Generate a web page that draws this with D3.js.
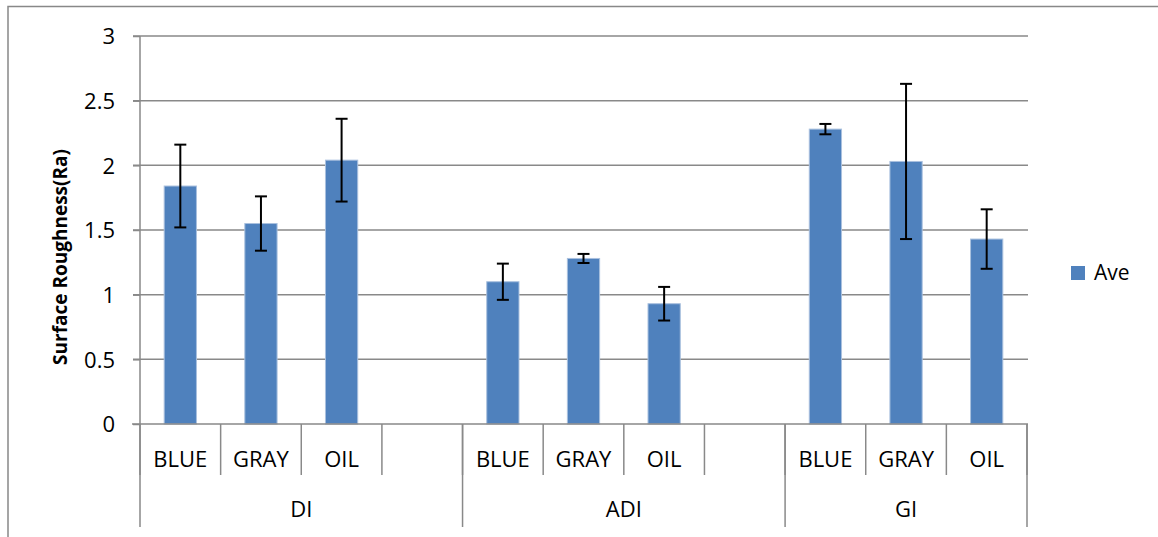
<!DOCTYPE html>
<html>
<head>
<meta charset="utf-8">
<script src="https://cdn.jsdelivr.net/npm/d3@7"></script>
<style>
  html, body { margin: 0; padding: 0; background: #fff; }
  svg { display: block; }
</style>
</head>
<body>
<svg id="chart" width="1158" height="537"></svg>
<script>
// ---- Data ----
const groups = ["DI", "ADI", "GI"];
const groupCategories = [
  ["BLUE", "GRAY", "OIL", ""],
  ["BLUE", "GRAY", "OIL", ""],
  ["BLUE", "GRAY", "OIL"]
];
const aveDI  = [1.84, 1.55, 2.04];
const aveADI = [1.10, 1.28, 0.93];
const aveGI  = [2.28, 2.03, 1.43];
const errDI  = [0.32, 0.21, 0.32];
const errADI = [0.14, 0.035, 0.13];
const errGI  = [0.04, 0.60, 0.23];
const yTicks = [0, 0.5, 1, 1.5, 2, 2.5, 3];
const yTickLabels = ["0", "0.5", "1", "1.5", "2", "2.5", "3"];
const seriesName = "Ave";
const yTitle = "Surface Roughness(Ra)";

// ---- Build slots ----
const aves = [aveDI, aveADI, aveGI];
const errs = [errDI, errADI, errGI];
const slots = [];
groups.forEach((g, gi) => {
  groupCategories[gi].forEach((c, ci) => {
    slots.push({
      key: g + "|" + ci,
      group: g,
      cat: c,
      value: c ? aves[gi][ci] : null,
      err: c ? errs[gi][ci] : null
    });
  });
});

// ---- Layout ----
const svg = d3.select("#chart");
const font = "'Open Sans', 'Noto Sans', sans-serif";
const gridColor = "#898989";
const barColor = "#4F81BD";

const x = d3.scaleBand().domain(slots.map(d => d.key)).range([140, 1027]).padding(0);
const y = d3.scaleLinear().domain([0, 3]).range([424, 36]);

// outer frame (top and left visible)
svg.append("path")
  .attr("d", "M8,537 L8,6.5 L1158,6.5")
  .attr("fill", "none").attr("stroke", "#888").attr("stroke-width", 1.5);

// gridlines
svg.append("g").selectAll("line").data(yTicks.filter(t => t > 0)).join("line")
  .attr("x1", 133).attr("x2", 1028)
  .attr("y1", d => y(d)).attr("y2", d => y(d))
  .attr("stroke", gridColor).attr("stroke-width", 1.5);

// y axis via d3
const yAxis = d3.axisLeft(y).tickValues(yTicks).tickFormat((d, i) => yTickLabels[i]).tickSize(7).tickPadding(18);
const yg = svg.append("g").attr("transform", "translate(140,0)").call(yAxis);
yg.select(".domain").attr("stroke", gridColor).attr("stroke-width", 1.5).attr("d", "M0,36V424");
yg.selectAll(".tick line").attr("stroke", gridColor).attr("stroke-width", 1.5);
yg.selectAll(".tick text").attr("font-family", font).attr("font-size", 22).attr("fill", "#000")
  .attr("dy", "0.36em");

// y title
svg.append("text")
  .attr("transform", "translate(67,257) rotate(-90)")
  .attr("text-anchor", "middle")
  .attr("font-family", font).attr("font-weight", "bold").attr("font-size", 19)
  .attr("fill", "#000")
  .text(yTitle);

// bars
const bw = x.bandwidth() * 0.4;
const dataSlots = slots.filter(d => d.cat);
svg.append("g").selectAll("rect").data(dataSlots).join("rect")
  .attr("x", d => x(d.key) + (x.bandwidth() - bw) / 2)
  .attr("width", bw)
  .attr("y", d => y(d.value))
  .attr("height", d => y(0) - y(d.value))
  .attr("fill", barColor)
  .attr("stroke", "#a9c0de").attr("stroke-width", 1);

// error bars
const eg = svg.append("g").attr("stroke", "#000").attr("stroke-width", 2).attr("fill", "none");
dataSlots.forEach(d => {
  const cx = x(d.key) + x.bandwidth() / 2;
  const y1 = y(d.value + d.err), y2 = y(d.value - d.err);
  eg.append("line").attr("x1", cx).attr("x2", cx).attr("y1", y1).attr("y2", y2);
  eg.append("line").attr("x1", cx - 6).attr("x2", cx + 6).attr("y1", y1).attr("y2", y1);
  eg.append("line").attr("x1", cx - 6).attr("x2", cx + 6).attr("y1", y2).attr("y2", y2);
});

// x axis line
svg.append("line").attr("x1", 132).attr("x2", 1028).attr("y1", 424).attr("y2", 424)
  .attr("stroke", gridColor).attr("stroke-width", 1.5);

// level-1 separators
const sepX = slots.map(d => x(d.key)).concat([x.range()[1]]);
svg.append("g").selectAll("line").data(sepX).join("line")
  .attr("x1", d => d).attr("x2", d => d).attr("y1", 424).attr("y2", 475)
  .attr("stroke", gridColor).attr("stroke-width", 1.5);

// level-2 separators
const groupBounds = [];
let idx = 0;
groups.forEach((g, gi) => {
  const start = x(slots[idx].key);
  idx += groupCategories[gi].length;
  const end = idx < slots.length ? x(slots[idx].key) : x.range()[1];
  groupBounds.push({ g, start, end });
});
const bx = [groupBounds[0].start].concat(groupBounds.map(b => b.end));
svg.append("g").selectAll("line").data(bx).join("line")
  .attr("x1", d => d).attr("x2", d => d).attr("y1", 424).attr("y2", 527)
  .attr("stroke", gridColor).attr("stroke-width", 1.5);

// category labels
svg.append("g").selectAll("text").data(dataSlots).join("text")
  .attr("x", d => x(d.key) + x.bandwidth() / 2)
  .attr("y", 467)
  .attr("text-anchor", "middle")
  .attr("font-family", font).attr("font-size", 22).attr("fill", "#000")
  .text(d => d.cat);

// group labels
svg.append("g").selectAll("text").data(groupBounds).join("text")
  .attr("x", d => (d.start + d.end) / 2)
  .attr("y", 517)
  .attr("text-anchor", "middle")
  .attr("font-family", font).attr("font-size", 22).attr("fill", "#000")
  .text(d => d.g);

// legend
const lg = svg.append("g");
lg.append("rect").attr("x", 1071).attr("y", 266).attr("width", 14).attr("height", 14).attr("fill", barColor);
lg.append("text").attr("x", 1094).attr("y", 280)
  .attr("font-family", font).attr("font-size", 21).attr("fill", "#000")
  .text(seriesName);
</script>
</body>
</html>
